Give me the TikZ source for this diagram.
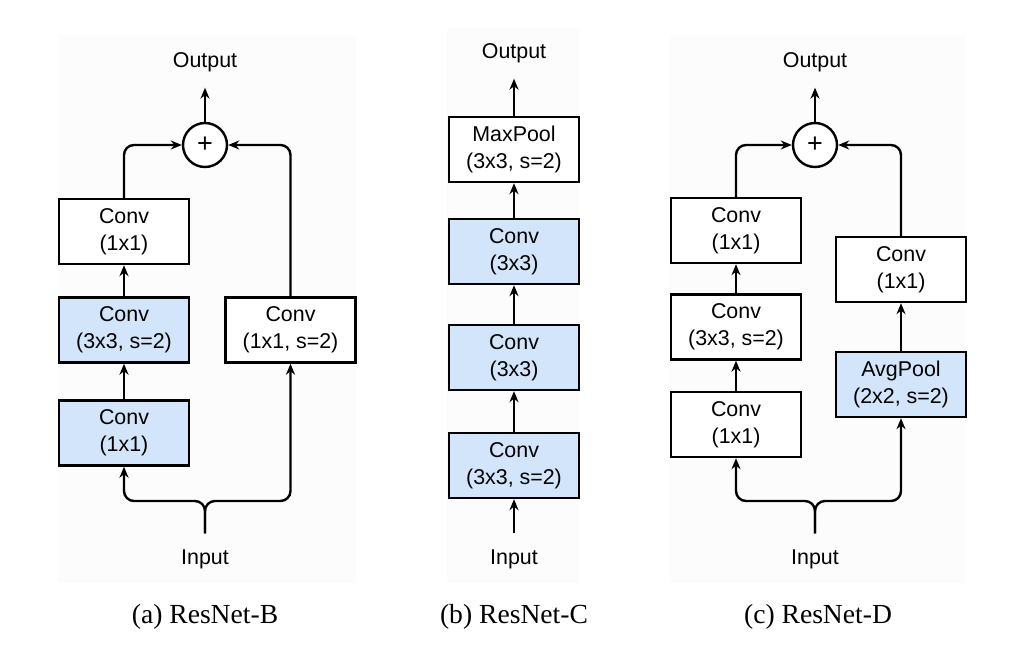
\documentclass[tikz,border=0pt]{standalone}
\usepackage{fontspec}
\setmainfont{Liberation Serif}
\setsansfont{Liberation Sans}
\usetikzlibrary{arrows.meta}
\definecolor{convblue}{RGB}{210,229,250}
\definecolor{panelgray}{RGB}{252,252,252}

\begin{document}
\begin{tikzpicture}[x=0.5pt, y=-0.5pt,
  block/.style={draw, line width=1.2pt, fill=white, minimum width=65pt, minimum height=32.5pt,
    inner sep=0pt, align=center, font=\sffamily\fontsize{10.7}{13.5}\selectfont},
  blueblock/.style={block, fill=convblue},
  io/.style={inner sep=0pt, outer sep=8pt, font=\sffamily\fontsize{10.7}{13.5}\selectfont},
  addnode/.style={draw, circle, line width=1.2pt, fill=white, minimum size=22pt, inner sep=0pt,
    font=\sffamily\fontsize{13.5}{14}\selectfont},
  link/.style={line width=1.2pt, rounded corners=5pt, -{Stealth[length=5.5pt,width=4.5pt]}},
  caption/.style={font=\fontsize{13.8}{16}\selectfont}]

  \useasboundingbox (0,0) rectangle (1027,669);

  % Panel backgrounds
  \fill[panelgray] (58,35) rectangle (356,583);
  \fill[panelgray] (447,28) rectangle (579,583);
  \fill[panelgray] (670,35) rectangle (965,583);

  % (a) ResNet-B
  \node[io] (aout) at (205,62) {Output};
  \node[addnode] (aplus) at (205,145) {+};
  \node[block] (ac3) at (124,231.5) {Conv\\(1x1)};
  \node[blueblock] (ac2) at (124,330) {Conv\\(3x3, s=2)};
  \node[blueblock] (ac1) at (124,433) {Conv\\(1x1)};
  \node[block] (ash) at (290.5,330) {Conv\\(1x1, s=2)};
  \node[io] (ain) at (205,559) {Input};
  \coordinate (asplit) at (205,501); % fork of the input

  \draw[link] (ain.north) |- (ac1.south |- asplit) -- (ac1.south);
  \draw[link] (ain.north) |- (ash.south |- asplit) -- (ash.south);
  \draw[link] (ac1) -- (ac2);
  \draw[link] (ac2) -- (ac3);
  \draw[link] (ac3.north) |- (aplus.west);
  \draw[link] (ash.north) |- (aplus.east);
  \draw[link] (aplus) -- (aout);

  % (b) ResNet-C
  \node[io] (bout) at (514,53) {Output};
  \node[block] (bpool) at (514,149.5) {MaxPool\\(3x3, s=2)};
  \node[blueblock] (bc3) at (514,251.5) {Conv\\(3x3)};
  \node[blueblock] (bc2) at (514,357.5) {Conv\\(3x3)};
  \node[blueblock] (bc1) at (514,465.5) {Conv\\(3x3, s=2)};
  \node[io] (bin) at (514,559) {Input};

  \draw[link] (bin) -- (bc1);
  \draw[link] (bc1) -- (bc2);
  \draw[link] (bc2) -- (bc3);
  \draw[link] (bc3) -- (bpool);
  \draw[link] (bpool) -- (bout);

  % (c) ResNet-D
  \node[io] (cout) at (815,62) {Output};
  \node[addnode] (cplus) at (815,145) {+};
  \node[block] (cc3) at (736,230.5) {Conv\\(1x1)};
  \node[block] (cc2) at (736,327) {Conv\\(3x3, s=2)};
  \node[block] (cc1) at (736,424.5) {Conv\\(1x1)};
  \node[block] (csh) at (901,269.5) {Conv\\(1x1)};
  \node[blueblock] (cpool) at (901,384.5) {AvgPool\\(2x2, s=2)};
  \node[io] (cin) at (815,559) {Input};
  \coordinate (csplit) at (815,501); % fork of the input

  \draw[link] (cin.north) |- (cc1.south |- csplit) -- (cc1.south);
  \draw[link] (cin.north) |- (cpool.south |- csplit) -- (cpool.south);
  \draw[link] (cc1) -- (cc2);
  \draw[link] (cc2) -- (cc3);
  \draw[link] (cpool) -- (csh);
  \draw[link] (cc3.north) |- (cplus.west);
  \draw[link] (csh.north) |- (cplus.east);
  \draw[link] (cplus) -- (cout);

  % Captions
  \node[caption] (acap) at (205,617) {(a) ResNet-B};
  \node[caption] (bcap) at (514,617) {(b) ResNet-C};
  \node[caption] (ccap) at (818,617) {(c) ResNet-D};
\end{tikzpicture}
\end{document}
